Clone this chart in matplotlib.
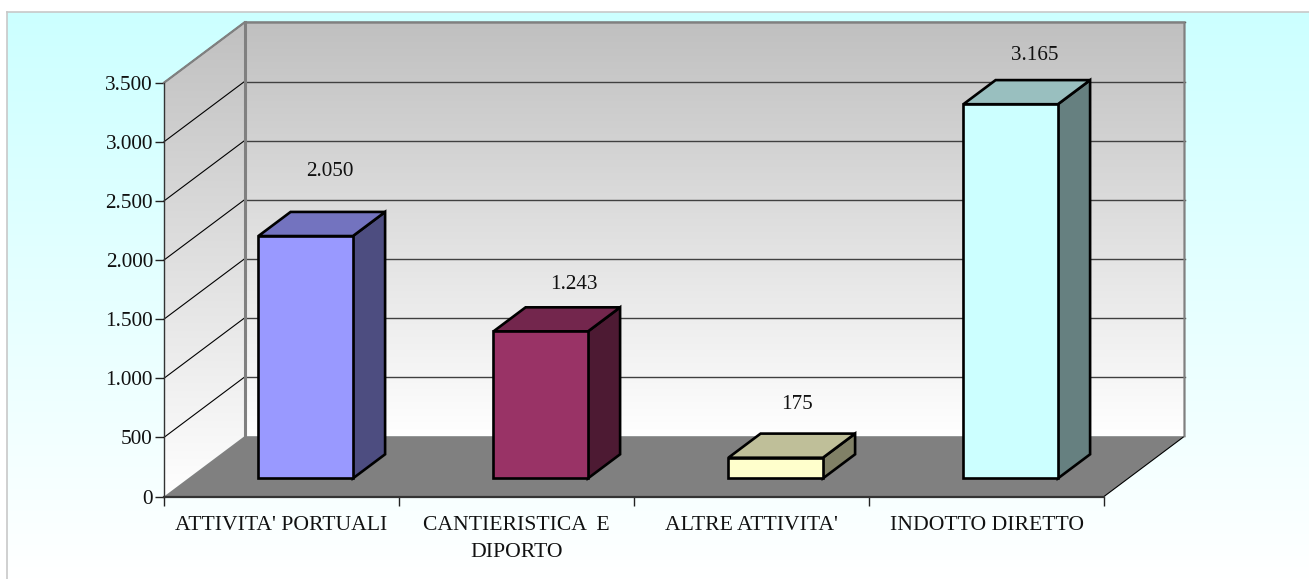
import numpy as np
import matplotlib
matplotlib.use('Agg')
import matplotlib.pyplot as plt
from matplotlib.patches import Polygon

plt.rcParams['font.family'] = ['Liberation Serif', 'DejaVu Serif']

categories = ["ATTIVITA' PORTUALI", "CANTIERISTICA  E\nDIPORTO", "ALTRE ATTIVITA'", "INDOTTO DIRETTO"]
values = [2050, 1243, 175, 3165]
value_labels = ["2.050", "1.243", "175", "3.165"]
yticks = [0, 500, 1000, 1500, 2000, 2500, 3000, 3500]
ytick_labels = ["0", "500", "1.000", "1.500", "2.000", "2.500", "3.000", "3.500"]
colors = ["#9999FF", "#993366", "#FFFFCC", "#CCFFFF"]
# hand placed in the original, offset from the top of the bar (px)
label_offsets = [(24, 65), (33, 47), (21, 53), (24, 49)]

W, H = 1309, 579
YMAX = 3500
L, R, B, T = 164, 1104, 496.5, 82.7
# depth of the fake 3d box, in data units
DX = 80.5 / 235
DY = 60.3 / (B - T) * YMAX
BAR_W = 94.5 / 235
BAR_D = 0.4
px = 72 / 100


def shade(color, f):
    return tuple(c * f for c in matplotlib.colors.to_rgb(color))


def gradient(ax, extent, top, bottom, clip=None, zorder=0):
    t, b = np.array(matplotlib.colors.to_rgb(top)), np.array(matplotlib.colors.to_rgb(bottom))
    g = np.linspace(0, 1, 256)[:, None, None] * (b - t) + t
    im = ax.imshow(g, extent=extent, aspect='auto', origin='upper', zorder=zorder,
                   interpolation='bilinear')
    if clip is not None:
        ax.add_patch(clip)
        im.set_clip_path(clip)
        im.set_clip_box(ax.figure.bbox)
    return im


fig = plt.figure(figsize=(W / 100, H / 100), dpi=100, facecolor='white')

# chart background with its border
bg = fig.add_axes([7 / W, 0, 1 - 7 / W, 1 - 12 / H])
gradient(bg, (0, 1, 0, 1), '#CCFFFF', '#FFFFFF')
bg.set_xticks([])
bg.set_yticks([])
for s in ['bottom', 'right']:
    bg.spines[s].set_visible(False)
for s in ['top', 'left']:
    bg.spines[s].set_color('#C8C8C8')
    bg.spines[s].set_linewidth(1.2)

ax = fig.add_axes([L / W, 1 - B / H, (R - L) / W, (B - T) / H])
ax.patch.set_visible(False)
n = len(categories)

# walls
back = Polygon([(DX, DY), (n + DX, DY), (n + DX, YMAX + DY), (DX, YMAX + DY)],
               closed=True, fc='none', ec='none', transform=ax.transData, clip_on=False)
side = Polygon([(0, 0), (DX, DY), (DX, YMAX + DY), (0, YMAX)],
               closed=True, fc='none', ec='none', transform=ax.transData, clip_on=False)
gradient(ax, (DX, n + DX, DY, YMAX + DY), '#C0C0C0', '#FFFFFF', clip=back, zorder=1)
gradient(ax, (0, DX, 0, YMAX + DY), '#C0C0C0', '#FFFFFF', clip=side, zorder=1)
ax.set_xlim(0, n)
ax.set_ylim(0, YMAX)

# floor
ax.add_patch(Polygon([(0, 0), (n, 0), (n + DX, DY), (DX, DY)], closed=True,
                     fc='#808080', ec='none', zorder=2, clip_on=False))

# grid on the two walls
for v in yticks[1:]:
    ax.plot([0, DX], [v, v + DY], color='black', lw=0.8, zorder=3, clip_on=False)
    ax.plot([DX, n + DX], [v + DY, v + DY], color='#404040', lw=1.0, zorder=3, clip_on=False)
ax.plot([n, n + DX], [0, DY], color='black', lw=0.8, zorder=3, clip_on=False)

# wall outline
ax.plot([0, DX, n + DX, n + DX], [YMAX, YMAX + DY, YMAX + DY, DY],
        color='#808080', lw=1.6, zorder=3, clip_on=False, solid_joinstyle='miter')
ax.plot([DX, DX], [DY, YMAX + DY], color='#808080', lw=2.2, zorder=3, clip_on=False)

# bars
for i, (v, c) in enumerate(zip(values, colors)):
    x0 = i + 0.5 - BAR_W / 2 + DX * (1 - BAR_D) / 2
    y0 = DY * (1 - BAR_D) / 2
    x1 = x0 + BAR_W
    y1 = y0 + v
    ddx, ddy = DX * BAR_D, DY * BAR_D
    kw = dict(closed=True, ec='black', lw=1.9, zorder=5, clip_on=False, joinstyle='miter')
    ax.add_patch(Polygon([(x1, y0), (x1 + ddx, y0 + ddy), (x1 + ddx, y1 + ddy), (x1, y1)],
                         fc=shade(c, 0.5), **kw))
    ax.add_patch(Polygon([(x0, y1), (x1, y1), (x1 + ddx, y1 + ddy), (x0 + ddx, y1 + ddy)],
                         fc=shade(c, 0.75), **kw))
    ax.add_patch(Polygon([(x0, y0), (x1, y0), (x1, y1), (x0, y1)], fc=c, **kw))
    off = label_offsets[i]
    ax.annotate(value_labels[i], xy=((x0 + x1) / 2, y1), xytext=(off[0] * px, off[1] * px),
                textcoords='offset points', ha='center', va='center',
                fontsize=15.2, color='#111111', zorder=6, annotation_clip=False)

# axes
ax.set_yticks(yticks, ytick_labels)
ax.set_xticks(range(n + 1), [''] * (n + 1))
for i, name in enumerate(categories):
    ax.annotate(name, xy=(i + 0.5, 0), xytext=(0, -18.5 * px - 1), textcoords='offset points',
                ha='center', va='top', fontsize=15.6, linespacing=1.57, color='#111111',
                annotation_clip=False)
ax.tick_params(axis='both', length=6.5, width=1.0, color='#222222', labelsize=15.3,
               labelcolor='#111111', pad=1.5)
for s in ['top', 'right']:
    ax.spines[s].set_visible(False)
ax.spines['left'].set_color('#333333')
ax.spines['left'].set_linewidth(1.0)
ax.spines['bottom'].set_color('#333333')
ax.spines['bottom'].set_linewidth(1.6)
for s in ax.spines.values():
    s.set_zorder(4)

fig.savefig('out.png', dpi=100)
